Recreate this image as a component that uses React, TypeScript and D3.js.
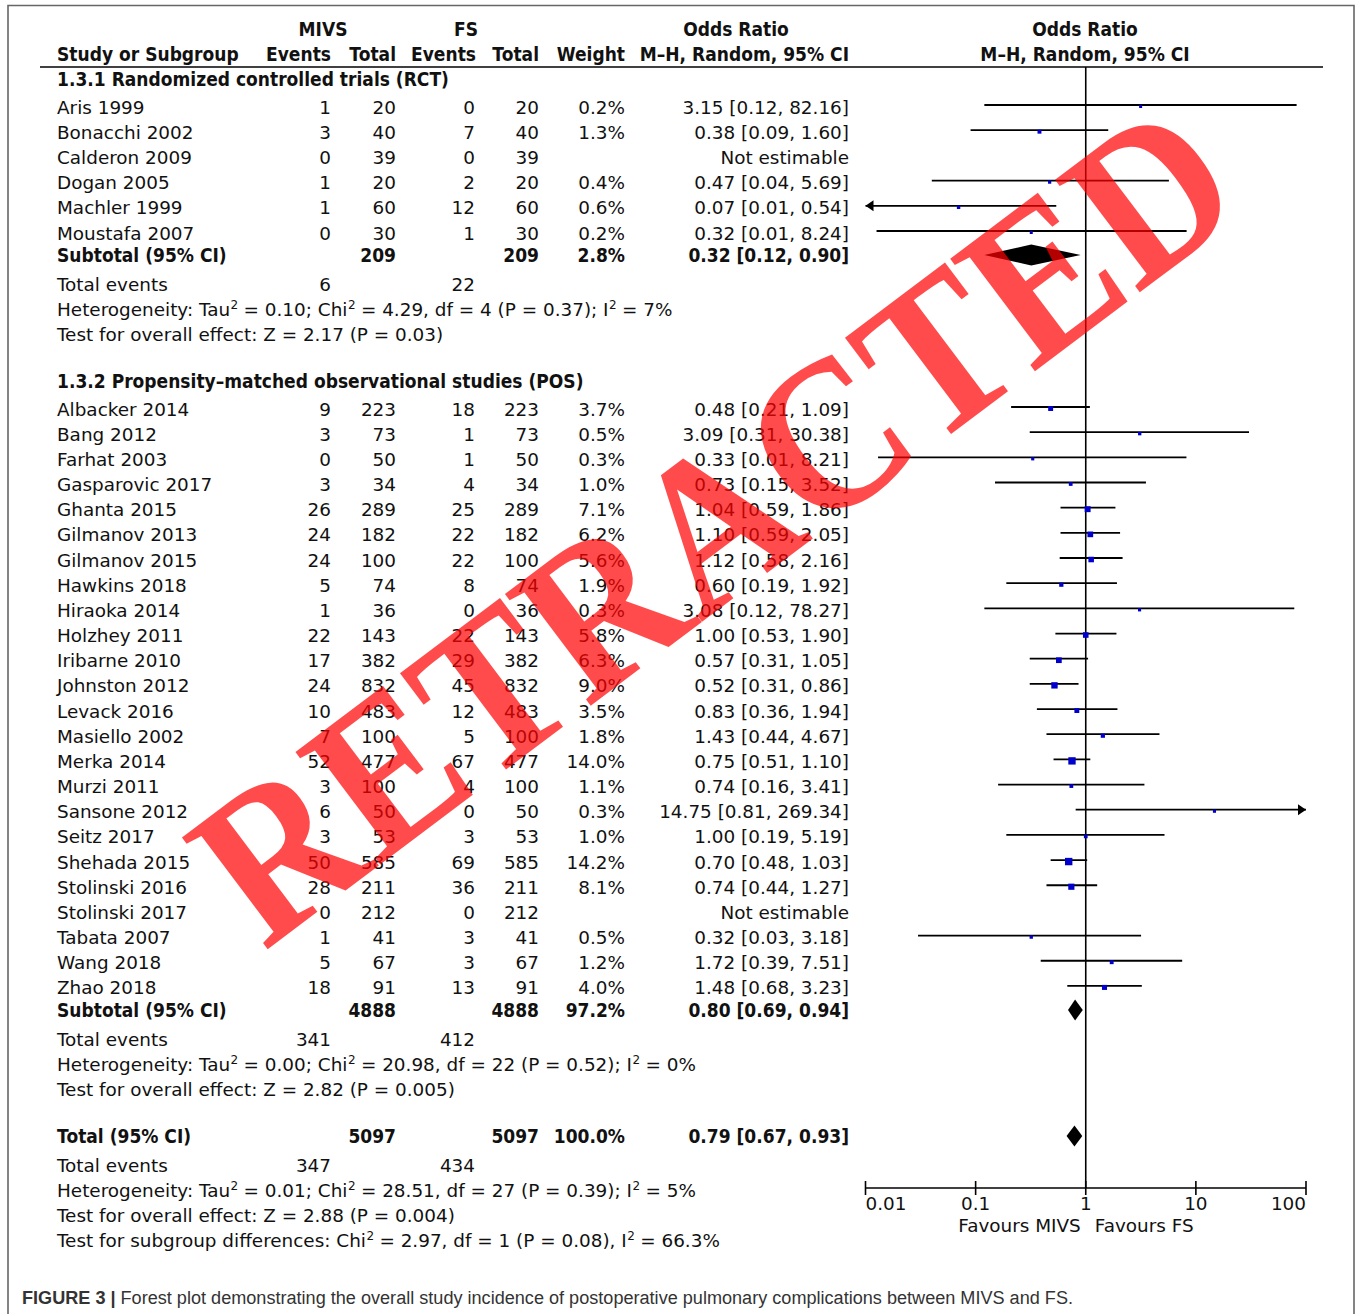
import React from "react";
import * as d3 from "d3";

// ---- data -------------------------------------------------------------
const rctStudies = ["Aris 1999", "Bonacchi 2002", "Calderon 2009", "Dogan 2005", "Machler 1999", "Moustafa 2007"];
const rctMivsEvents = [1, 3, 0, 1, 1, 0];
const rctMivsTotal = [20, 40, 39, 20, 60, 30];
const rctFsEvents = [0, 7, 0, 2, 12, 1];
const rctFsTotal = [20, 40, 39, 20, 60, 30];
const rctWeight: (number | null)[] = [0.2, 1.3, null, 0.4, 0.6, 0.2];
const rctOR: (number | null)[] = [3.15, 0.38, null, 0.47, 0.07, 0.32];
const rctLower: (number | null)[] = [0.12, 0.09, null, 0.04, 0.0085, 0.0126];
const rctUpper: (number | null)[] = [82.16, 1.6, null, 5.69, 0.54, 8.24];

const posStudies = [
  "Albacker 2014", "Bang 2012", "Farhat 2003", "Gasparovic 2017", "Ghanta 2015", "Gilmanov 2013",
  "Gilmanov 2015", "Hawkins 2018", "Hiraoka 2014", "Holzhey 2011", "Iribarne 2010", "Johnston 2012",
  "Levack 2016", "Masiello 2002", "Merka 2014", "Murzi 2011", "Sansone 2012", "Seitz 2017",
  "Shehada 2015", "Stolinski 2016", "Stolinski 2017", "Tabata 2007", "Wang 2018", "Zhao 2018",
];
const posMivsEvents = [9, 3, 0, 3, 26, 24, 24, 5, 1, 22, 17, 24, 10, 7, 52, 3, 6, 3, 50, 28, 0, 1, 5, 18];
const posMivsTotal = [223, 73, 50, 34, 289, 182, 100, 74, 36, 143, 382, 832, 483, 100, 477, 100, 50, 53, 585, 211, 212, 41, 67, 91];
const posFsEvents = [18, 1, 1, 4, 25, 22, 22, 8, 0, 22, 29, 45, 12, 5, 67, 4, 0, 3, 69, 36, 0, 3, 3, 13];
const posFsTotal = [223, 73, 50, 34, 289, 182, 100, 74, 36, 143, 382, 832, 483, 100, 477, 100, 50, 53, 585, 211, 212, 41, 67, 91];
const posWeight: (number | null)[] = [3.7, 0.5, 0.3, 1.0, 7.1, 6.2, 5.6, 1.9, 0.3, 5.8, 6.3, 9.0, 3.5, 1.8, 14.0, 1.1, 0.3, 1.0, 14.2, 8.1, null, 0.5, 1.2, 4.0];
const posOR: (number | null)[] = [0.48, 3.09, 0.33, 0.73, 1.04, 1.1, 1.12, 0.6, 3.08, 1.0, 0.57, 0.52, 0.83, 1.43, 0.75, 0.74, 14.75, 1.0, 0.7, 0.74, null, 0.32, 1.72, 1.48];
const posLower: (number | null)[] = [0.21, 0.31, 0.013, 0.15, 0.59, 0.59, 0.58, 0.19, 0.12, 0.53, 0.31, 0.31, 0.36, 0.44, 0.51, 0.16, 0.81, 0.19, 0.48, 0.44, null, 0.03, 0.39, 0.68];
const posUpper: (number | null)[] = [1.09, 30.38, 8.21, 3.52, 1.86, 2.05, 2.16, 1.92, 78.27, 1.9, 1.05, 0.86, 1.94, 4.67, 1.1, 3.41, 269.34, 5.19, 1.03, 1.27, null, 3.18, 7.51, 3.23];

// pooled results: [RCT subtotal, POS subtotal, overall]
const pooledLabel = ["Subtotal (95% CI)", "Subtotal (95% CI)", "Total (95% CI)"];
const pooledMivsTotal = [209, 4888, 5097];
const pooledFsTotal = [209, 4888, 5097];
const pooledWeight = [2.8, 97.2, 100.0];
const pooledOR = [0.32, 0.8, 0.79];
const pooledLower = [0.12, 0.69, 0.67];
const pooledUpper = [0.9, 0.94, 0.93];
const pooledMivsEvents = [6, 341, 347];
const pooledFsEvents = [22, 412, 434];
const heterogeneityText = [
  "Heterogeneity: Tau² = 0.10; Chi² = 4.29, df = 4 (P = 0.37); I² = 7%",
  "Heterogeneity: Tau² = 0.00; Chi² = 20.98, df = 22 (P = 0.52); I² = 0%",
  "Heterogeneity: Tau² = 0.01; Chi² = 28.51, df = 27 (P = 0.39); I² = 5%",
];
const overallEffectText = [
  "Test for overall effect: Z = 2.17 (P = 0.03)",
  "Test for overall effect: Z = 2.82 (P = 0.005)",
  "Test for overall effect: Z = 2.88 (P = 0.004)",
];
const subgroupText = "Test for subgroup differences: Chi² = 2.97, df = 1 (P = 0.08), I² = 66.3%";
const sectionTitles = ["1.3.1 Randomized controlled trials (RCT)", "1.3.2 Propensity–matched observational studies (POS)"];
const axisTicks = [0.01, 0.1, 1, 10, 100];
const favoursLeft = "Favours MIVS";
const favoursRight = "Favours FS";
const captionBold = "FIGURE 3 | ";
const captionText = "Forest plot demonstrating the overall study incidence of postoperative pulmonary complications between MIVS and FS.";
const stampText = "RETRACTED";

// ---- layout -----------------------------------------------------------
const W = 1357;
const H = 1314;
const FONT = "DejaVu Sans";
const colMivsEv = 331;
const colMivsTot = 396;
const colFsEv = 475;
const colFsTot = 539;
const colWeight = 625;
const colOR = 849;
const textX = 57;

const xScale = d3.scaleLog().domain([0.01, 100]).range([865.5, 1306]);
const sqSize = d3.scaleSqrt().domain([0, 14.2]).range([2.4, 7.4]);

const fmt2 = d3.format(".2f");
const fmtW = (w: number) => `${d3.format(".1f")(w)}%`;
const orLabel = (o: number, l: number, u: number) => `${fmt2(o)} [${fmt2(l)}, ${fmt2(u)}]`;

// superscript "²" rendered as a raised small 2
function withSup(s: string) {
  const parts = s.split("²");
  const out: React.ReactNode[] = [];
  parts.forEach((p, i) => {
    if (i > 0) {
      out.push(<tspan key={`s${i}`} fontSize={12} dy={-7} dx={0.5}>2</tspan>);
      out.push(<tspan key={`p${i}`} dy={7} dx={-0.5}>{p}</tspan>);
    } else out.push(<tspan key={`p${i}`}>{p}</tspan>);
  });
  return out;
}

type TxtProps = { x: number; y: number; anchor?: "start" | "middle" | "end"; bold?: boolean; children: React.ReactNode; fill?: string };
const Txt = ({ x, y, anchor = "start", bold = false, children, fill = "#111" }: TxtProps) =>
  bold ? (
    <text transform={`translate(${x},${y}) scale(0.92,1)`} textAnchor={anchor} fontFamily={FONT} fontSize={18.6} fontWeight="bold" fill={fill}>
      {children}
    </text>
  ) : (
    <text x={x} y={y} textAnchor={anchor} fontFamily={FONT} fontSize={18.4} fill={fill}>
      {children}
    </text>
  );

const BASE = 6.5; // center -> baseline offset

function StudyRow({ y, name, me, mt, fe, ft, w, or, lo, hi }: any) {
  const b = y + BASE;
  const estimable = or != null;
  const ly = y - 2;
  const x0 = xScale(Math.max(lo ?? 1, 0.01));
  const x1 = xScale(Math.min(hi ?? 1, 100));
  return (
    <g>
      <Txt x={textX} y={b}>{name}</Txt>
      <Txt x={colMivsEv} y={b} anchor="end">{me}</Txt>
      <Txt x={colMivsTot} y={b} anchor="end">{mt}</Txt>
      <Txt x={colFsEv} y={b} anchor="end">{fe}</Txt>
      <Txt x={colFsTot} y={b} anchor="end">{ft}</Txt>
      {w != null && <Txt x={colWeight} y={b} anchor="end">{fmtW(w)}</Txt>}
      <Txt x={colOR} y={b} anchor="end">{estimable ? orLabel(or, lo, hi) : "Not estimable"}</Txt>
      {estimable && (
        <g>
          <line x1={x0} x2={x1} y1={ly} y2={ly} stroke="#000" strokeWidth={1.8} />
          {lo < 0.01 && <path d={`M${x0},${ly} l8,-5.5 l0,11 z`} fill="#000" />}
          {hi > 100 && <path d={`M${x1},${ly} l-8,-5.5 l0,11 z`} fill="#000" />}
          <rect
            x={xScale(or) - sqSize(w) / 2}
            y={y - 0.5 - sqSize(w) / 2}
            width={sqSize(w)}
            height={sqSize(w)}
            fill="#0000cc"
          />
        </g>
      )}
    </g>
  );
}

function PooledRow({ y, k }: { y: number; k: number }) {
  const b = y + BASE;
  const d = `M${xScale(pooledLower[k])},${y} L${xScale(pooledOR[k])},${y - 10.5} L${xScale(pooledUpper[k])},${y} L${xScale(pooledOR[k])},${y + 10.5} Z`;
  return (
    <g>
      <Txt x={textX} y={b} bold>{pooledLabel[k]}</Txt>
      <Txt x={colMivsTot} y={b} anchor="end" bold>{pooledMivsTotal[k]}</Txt>
      <Txt x={colFsTot} y={b} anchor="end" bold>{pooledFsTotal[k]}</Txt>
      <Txt x={colWeight} y={b} anchor="end" bold>{fmtW(pooledWeight[k])}</Txt>
      <Txt x={colOR} y={b} anchor="end" bold>{orLabel(pooledOR[k], pooledLower[k], pooledUpper[k])}</Txt>
      <path d={d} fill="#000" />
    </g>
  );
}

function EventsRow({ y, k }: { y: number; k: number }) {
  const b = y + BASE;
  return (
    <g>
      <Txt x={textX} y={b}>Total events</Txt>
      <Txt x={colMivsEv} y={b} anchor="end">{pooledMivsEvents[k]}</Txt>
      <Txt x={colFsEv} y={b} anchor="end">{pooledFsEvents[k]}</Txt>
    </g>
  );
}

export default function App() {
  const rctY = rctStudies.map((_, i) => 107 + i * 25.2);
  const posY = posStudies.map((_, i) => 409 + i * 25.17);
  const rctSub = 255;
  const posSub = 1010;
  const totalY = 1136;

  const summaryBlock = (k: number, y0: number) => (
    <g>
      <EventsRow y={y0} k={k} />
      <Txt x={textX} y={y0 + 25 + BASE}>{withSup(heterogeneityText[k])}</Txt>
      <Txt x={textX} y={y0 + 50 + BASE}>{overallEffectText[k]}</Txt>
    </g>
  );

  const axisY = 1188;
  const x1 = xScale(1);

  return (
    <svg width={W} height={H} viewBox={`0 0 ${W} ${H}`} style={{ position: "absolute", left: 0, top: 0, background: "#fff" }}>
      <rect width={W} height={H} fill="#fff" />
      {/* frame */}
      <path d={`M8,${H} L8,5.5 L1354,5.5 L1354,${H}`} fill="none" stroke="#666" strokeWidth={1.6} />

      {/* column headers */}
      <Txt x={323} y={36} anchor="middle" bold>MIVS</Txt>
      <Txt x={466} y={36} anchor="middle" bold>FS</Txt>
      <Txt x={736} y={36} anchor="middle" bold>Odds Ratio</Txt>
      <Txt x={1085} y={36} anchor="middle" bold>Odds Ratio</Txt>
      <Txt x={textX} y={61} bold>Study or Subgroup</Txt>
      <Txt x={colMivsEv} y={61} anchor="end" bold>Events</Txt>
      <Txt x={colMivsTot} y={61} anchor="end" bold>Total</Txt>
      <Txt x={colFsEv + 1} y={61} anchor="end" bold>Events</Txt>
      <Txt x={colFsTot} y={61} anchor="end" bold>Total</Txt>
      <Txt x={colWeight} y={61} anchor="end" bold>Weight</Txt>
      <Txt x={colOR} y={61} anchor="end" bold>M–H, Random, 95% CI</Txt>
      <Txt x={1085} y={61} anchor="middle" bold>M–H, Random, 95% CI</Txt>
      <line x1={40} x2={1323} y1={67} y2={67} stroke="#000" strokeWidth={1.6} />

      {/* null line */}
      <line x1={x1} x2={x1} y1={67} y2={axisY} stroke="#000" strokeWidth={1.6} />

      {/* RCT subgroup */}
      <Txt x={textX} y={79 + BASE} bold>{sectionTitles[0]}</Txt>
      {rctStudies.map((s, i) => (
        <StudyRow key={s} y={rctY[i]} name={s} me={rctMivsEvents[i]} mt={rctMivsTotal[i]} fe={rctFsEvents[i]} ft={rctFsTotal[i]}
          w={rctWeight[i]} or={rctOR[i]} lo={rctLower[i]} hi={rctUpper[i]} />
      ))}
      <PooledRow y={rctSub} k={0} />
      {summaryBlock(0, 284)}

      {/* POS subgroup */}
      <Txt x={textX} y={381 + BASE} bold>{sectionTitles[1]}</Txt>
      {posStudies.map((s, i) => (
        <StudyRow key={s} y={posY[i]} name={s} me={posMivsEvents[i]} mt={posMivsTotal[i]} fe={posFsEvents[i]} ft={posFsTotal[i]}
          w={posWeight[i]} or={posOR[i]} lo={posLower[i]} hi={posUpper[i]} />
      ))}
      <PooledRow y={posSub} k={1} />
      {summaryBlock(1, 1039)}

      {/* overall */}
      <PooledRow y={totalY} k={2} />
      {summaryBlock(2, 1165)}
      <Txt x={textX} y={1240 + BASE}>{withSup(subgroupText)}</Txt>

      {/* log axis */}
      <line x1={xScale(0.01)} x2={xScale(100)} y1={axisY} y2={axisY} stroke="#000" strokeWidth={1.6} />
      {axisTicks.map((t, i) => (
        <g key={t}>
          <line x1={xScale(t)} x2={xScale(t)} y1={axisY - 7} y2={axisY + 7} stroke="#000" strokeWidth={1.6} />
          <Txt x={xScale(t)} y={1210} anchor={i === 0 ? "start" : i === axisTicks.length - 1 ? "end" : "middle"}>
            {String(t)}
          </Txt>
        </g>
      ))}
      <Txt x={x1 - 5} y={1232} anchor="end">{favoursLeft}</Txt>
      <Txt x={x1 + 9} y={1232}>{favoursRight}</Txt>

      {/* caption */}
      <text x={22} y={1304} fontFamily="Liberation Sans" fontSize={18} fill="#333" textLength={1051} lengthAdjust="spacingAndGlyphs">
        <tspan fontWeight="bold">{captionBold}</tspan>
        {captionText}
      </text>

      {/* retraction stamp */}
      <text
        transform="translate(264,952) rotate(-37) scale(0.915,1)"
        fontFamily="Liberation Serif"
        fontWeight="bold"
        fontSize={215}
        fill="#ff0000"
        opacity={0.7}
      >
        {stampText}
      </text>
    </svg>
  );
}
